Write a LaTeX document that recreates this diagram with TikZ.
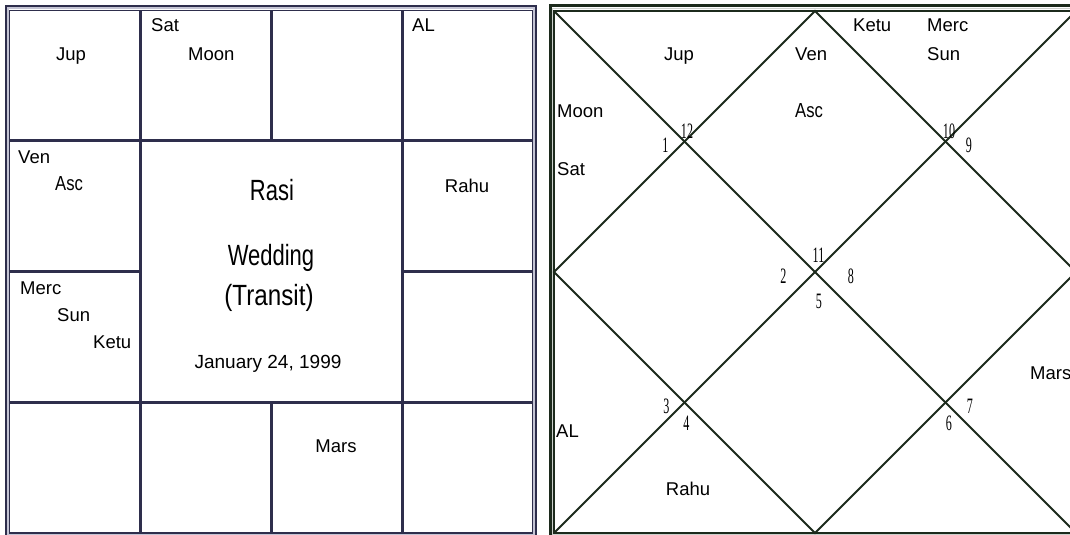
\documentclass[tikz,border=0pt]{standalone}
\usepackage{fontspec}
\usepackage{graphicx}
\setmainfont{Liberation Sans}
\newfontfamily\numfamily{Liberation Serif}
\definecolor{navyline}{HTML}{2E2E4C}
\definecolor{navygap}{HTML}{C4C4D4}
\definecolor{darkline}{HTML}{1C2A1C}
\definecolor{darkgap}{HTML}{CCD0CC}
\newcommand\nsq[1]{\scalebox{0.55}[1]{#1}}
\newcommand\bigtxt[1]{\scalebox{1}[1.33]{#1}}
\newcommand\asctxt[1]{\scalebox{0.9}[1.1]{#1}}
\tikzset{
  lbl/.style={font=\fontsize{18.5}{18.5}\selectfont, inner sep=0pt, text=black},
  lw/.style={lbl, anchor=base west},
  lc/.style={lbl, anchor=base},
  bigl/.style={font=\fontsize{22}{22}\selectfont, inner sep=0pt, anchor=base},
  datel/.style={font=\fontsize{19}{19}\selectfont, inner sep=0pt, anchor=base},
  num/.style={font=\numfamily\fontsize{22}{22}\selectfont, inner sep=0pt, anchor=base},
  gridl/.style={draw=navyline, line width=3pt},
  diagl/.style={draw=darkline, line width=2pt},
}
\begin{document}
\begin{tikzpicture}[x=1pt,y=-1pt]
\useasboundingbox (0,0) rectangle (1070,535);
\clip (0,0) rectangle (1070,535);
% ---------- left chart frame ----------
\draw[navyline, line width=2pt] (6,5.8) rectangle (536,537.5);
\draw[navygap, line width=2pt] (8,8.3) rectangle (534,535.2);
\draw[navyline, line width=1.5pt] (9.7,10.5) rectangle (532.5,533);
% grid
\coordinate (c1t) at (140.5,10.5);  \coordinate (c1b) at (140.5,533);
\coordinate (c3t) at (402.5,10.5);  \coordinate (c3b) at (402.5,533);
\coordinate (r1l) at (9.7,140.5);   \coordinate (r1r) at (532.5,140.5);
\coordinate (r3l) at (9.7,402.5);   \coordinate (r3r) at (532.5,402.5);
\coordinate (c2t) at (271.5,10.5);  \coordinate (c2m) at (271.5,140.5);
\coordinate (c2n) at (271.5,402.5); \coordinate (c2b) at (271.5,533);
\coordinate (r2l) at (9.7,271);     \coordinate (r2m) at (140.5,271);
\coordinate (r2n) at (402.5,271);   \coordinate (r2r) at (532.5,271);
\draw[gridl] (c1t) -- (c1b);
\draw[gridl] (c3t) -- (c3b);
\draw[gridl] (r1l) -- (r1r);
\draw[gridl] (r3l) -- (r3r);
\draw[gridl] (c2t) -- (c2m);
\draw[gridl] (c2n) -- (c2b);
\draw[gridl] (r2l) -- (r2m);
\draw[gridl] (r2n) -- (r2r);
% left chart texts
\node[lc] (lJup) at (71,60) {Jup};
\node[lw] (lSat) at (151,32) {Sat};
\node[lw] (lMoon) at (188,60) {Moon};
\node[lw] (lAL) at (412,32) {AL};
\node[lw] (lVen) at (18,163) {Ven};
\node[lw] (lAsc) at (55,190) {\asctxt{Asc}};
\node[lc] (lRahu) at (467,192) {Rahu};
\node[lw] (lMerc) at (20,294) {Merc};
\node[lw] (lSun) at (57,321) {Sun};
\node[lw] (lKetu) at (93,348) {Ketu};
\node[lc] (lMars) at (336,452) {Mars};
\node[bigl] (rasi) at (272,200) {\bigtxt{Rasi}};
\node[bigl] (wedding) at (271,265) {\bigtxt{Wedding}};
\node[bigl] (transit) at (269,305) {\scalebox{1.1}[1.33]{(Transit)}};
\node[datel] (date) at (268,368) {January 24, 1999};
% ---------- right chart frame ----------
\draw[darkline, line width=3pt] (550,6) rectangle (1082,535.5);
\draw[darkgap, line width=1.6pt] (552.4,8.6) rectangle (1080,534);
\draw[darkline, line width=1.5pt] (554,10.8) rectangle (1076,533);
\coordinate (TL) at (554,11);
\coordinate (TR) at (1076,11);
\coordinate (BL) at (554,533);
\coordinate (BR) at (1076,533);
\coordinate (T) at (815,11);
\coordinate (R) at (1076,272);
\coordinate (B) at (815,533);
\coordinate (L) at (554,272);
\draw[diagl] (TL) -- (BR);
\draw[diagl] (TR) -- (BL);
\draw[diagl] (T) -- (R) -- (B) -- (L) -- cycle;
% right chart texts
\node[lc] (rJup) at (679,60) {Jup};
\node[lw] (rVen) at (795,60) {Ven};
\node[lw] (rAsc) at (795,117) {\asctxt{Asc}};
\node[lw] (rKetu) at (853,32) {Ketu};
\node[lw] (rMerc) at (927,32) {Merc};
\node[lw] (rSun) at (927,60) {Sun};
\node[lw] (rMoon) at (557,117) {Moon};
\node[lw] (rSat) at (557,175) {Sat};
\node[lw] (rAL) at (556,437) {AL};
\node[lc] (rRahu) at (688,495) {Rahu};
\node[lw] (rMars) at (1030,379) {Mars};
% house numbers
\node[num] (n1) at (665.5,152) {\nsq{1}};
\node[num] (n12) at (687,138) {\nsq{12}};
\node[num] (n10) at (949,138) {\nsq{10}};
\node[num] (n9) at (969,152) {\nsq{9}};
\node[num] (n11) at (818.5,262) {\nsq{11}};
\node[num] (n2) at (783.5,283) {\nsq{2}};
\node[num] (n8) at (851,283) {\nsq{8}};
\node[num] (n5) at (819,308) {\nsq{5}};
\node[num] (n3) at (666.5,413) {\nsq{3}};
\node[num] (n4) at (686.5,430) {\nsq{4}};
\node[num] (n7) at (970,413) {\nsq{7}};
\node[num] (n6) at (949,430) {\nsq{6}};
\end{tikzpicture}
\end{document}
